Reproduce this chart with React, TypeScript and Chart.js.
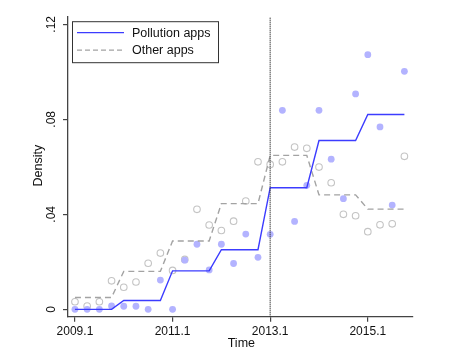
import React, { useEffect, useRef } from "react";
import { Chart, registerables } from "chart.js";

Chart.register(...registerables);

const quarters = [
  "2009.1", "2009.2", "2009.3", "2009.4",
  "2010.1", "2010.2", "2010.3", "2010.4",
  "2011.1", "2011.2", "2011.3", "2011.4",
  "2012.1", "2012.2", "2012.3", "2012.4",
  "2013.1", "2013.2", "2013.3", "2013.4",
  "2014.1", "2014.2", "2014.3", "2014.4",
  "2015.1", "2015.2", "2015.3", "2015.4",
];

const pollutionDots = [
  0, 0, 0, 0.0014, 0.0013, 0.0013, 0, 0.0123,
  0, 0.0207, 0.0274, 0.0166, 0.0274, 0.0193, 0.0317, 0.0219,
  0.0316, 0.0838, 0.037, 0.0522, 0.0838, 0.0632, 0.0466, 0.0907,
  0.1072, 0.0768, 0.0439, 0.1002,
];

const otherDots = [
  0.0032, 0.0014, 0.0032, 0.012, 0.0093, 0.0115, 0.0194, 0.0237,
  0.0164, 0.021, 0.0421, 0.0355, 0.0332, 0.0371, 0.0456, 0.0621,
  0.061, 0.0621, 0.0683, 0.0678, 0.0599, 0.0533, 0.04, 0.0394,
  0.0327, 0.0356, 0.036, 0.0644,
];

const pollutionLine = [
  0, 0, 0, 0,
  0.0037, 0.0037, 0.0037, 0.0037,
  0.0162, 0.0162, 0.0162, 0.0162,
  0.0251, 0.0251, 0.0251, 0.0251,
  0.0512, 0.0512, 0.0512, 0.0512,
  0.0711, 0.0711, 0.0711, 0.0711,
  0.082, 0.082, 0.082, 0.082,
];

const otherLine = [
  0.005, 0.005, 0.005, 0.005,
  0.016, 0.016, 0.016, 0.016,
  0.0288, 0.0288, 0.0288, 0.0288,
  0.0445, 0.0445, 0.0445, 0.0445,
  0.0648, 0.0648, 0.0648, 0.0648,
  0.0482, 0.0482, 0.0482, 0.0482,
  0.0422, 0.0422, 0.0422, 0.0422,
];

const xTickLabels = ["2009.1", "2011.1", "2013.1", "2015.1"];
const yTickValues = [0, 0.04, 0.08, 0.12];
const yTickLabels = ["0", ".04", ".08", ".12"];
const treatmentQuarter = "2013.1";
const legendLabels = ["Pollution apps", "Other apps"];

const FONT = "'Liberation Sans', Arial, sans-serif";
const BLUE = "#3c3cff";
const BLUE_DOT = "#b3b3ff";
const GRAY_LINE = "#a3a3a3";
const GRAY_DOT = "#c4c4c4";
const AXIS = "#444444";

const toPoints = (arr: number[]) => arr.map((v, i) => ({ x: i, y: v }));

export default function App() {
  const ref = useRef<HTMLCanvasElement | null>(null);

  useEffect(() => {
    if (!ref.current) return;

    const overlay = {
      id: "overlay",
      afterDatasetsDraw(chart: any) {
        const ctx = chart.ctx;
        const { chartArea } = chart;
        const xs = chart.scales.x;
        const ys = chart.scales.y;
        ctx.save();
        // vertical dotted reference line
        const vx = xs.getPixelForValue(quarters.indexOf(treatmentQuarter));
        ctx.strokeStyle = "#333333";
        ctx.lineWidth = 1.3;
        ctx.setLineDash([1, 1]);
        ctx.beginPath();
        ctx.moveTo(vx, chartArea.top + 1);
        ctx.lineTo(vx, chartArea.bottom);
        ctx.stroke();
        ctx.setLineDash([]);

        // legend
        const lx = chartArea.left + 4;
        const ly = chartArea.top + 4.5;
        ctx.fillStyle = "#ffffff";
        ctx.fillRect(lx, ly, 146, 41);
        ctx.strokeStyle = "#333333";
        ctx.lineWidth = 1;
        ctx.strokeRect(lx + 0.5, ly + 0.5, 146, 41);
        const rows = [ly + 11.5, ly + 29];
        ctx.lineWidth = 1.3;
        ctx.strokeStyle = BLUE;
        ctx.beginPath();
        ctx.moveTo(lx + 5, rows[0]);
        ctx.lineTo(lx + 52, rows[0]);
        ctx.stroke();
        ctx.strokeStyle = GRAY_LINE;
        ctx.setLineDash([5, 3]);
        ctx.beginPath();
        ctx.moveTo(lx + 5, rows[1]);
        ctx.lineTo(lx + 52, rows[1]);
        ctx.stroke();
        ctx.setLineDash([]);
        ctx.fillStyle = "#111111";
        ctx.font = `12.5px ${FONT}`;
        ctx.textAlign = "left";
        ctx.textBaseline = "middle";
        ctx.fillText(legendLabels[0], lx + 60, rows[0] + 0.5);
        ctx.fillText(legendLabels[1], lx + 60, rows[1] + 0.5);

        // y tick labels (rotated)
        ctx.font = `12px ${FONT}`;
        ctx.fillStyle = "#111111";
        ctx.textAlign = "center";
        ctx.textBaseline = "middle";
        yTickValues.forEach((v, i) => {
          const py = ys.getPixelForValue(v);
          ctx.save();
          ctx.translate(52, py);
          ctx.rotate(-Math.PI / 2);
          ctx.fillText(yTickLabels[i], 0, 0);
          ctx.restore();
        });
        // y title
        ctx.save();
        ctx.translate(39, (chartArea.top + chartArea.bottom) / 2 - 1);
        ctx.rotate(-Math.PI / 2);
        ctx.font = `12.5px ${FONT}`;
        ctx.fillText("Density", 0, 0);
        ctx.restore();
        // x title
        ctx.font = `12.5px ${FONT}`;
        ctx.fillText("Time", (chartArea.left + chartArea.right) / 2 + 1, 343.5);
        ctx.restore();
      },
    };

    const chart = new Chart(ref.current, {
      type: "line",
      data: {
        datasets: [
          {
            label: legendLabels[0],
            data: toPoints(pollutionLine),
            borderColor: BLUE,
            borderWidth: 1.4,
            pointRadius: 0,
            fill: false,
            order: 0,
          },
          {
            label: legendLabels[1],
            data: toPoints(otherLine),
            borderColor: GRAY_LINE,
            borderWidth: 1.4,
            borderDash: [6, 4],
            pointRadius: 0,
            fill: false,
            order: 0,
          },
          {
            label: "pollution dots",
            data: toPoints(pollutionDots),
            showLine: false,
            pointRadius: 3.4,
            pointBackgroundColor: BLUE_DOT,
            pointBorderColor: BLUE_DOT,
            pointBorderWidth: 0,
            order: 1,
          },
          {
            label: "other dots",
            data: toPoints(otherDots),
            showLine: false,
            pointRadius: 3.3,
            pointBackgroundColor: "rgba(0,0,0,0)",
            pointBorderColor: GRAY_DOT,
            pointBorderWidth: 1.1,
            order: 1,
          },
        ],
      },
      options: {
        responsive: false,
        animation: false,
        devicePixelRatio: 1,
        layout: { padding: { left: 0, right: 63.3, top: 16.7, bottom: 0 } },
        plugins: {
          legend: { display: false },
          tooltip: { enabled: false },
          title: { display: false },
        },
        scales: {
          x: {
            type: "linear",
            min: -0.57,
            max: 27.68,
            afterFit(scale: any) {
              scale.height = 38.3;
            },
            afterBuildTicks(scale: any) {
              scale.ticks = xTickLabels.map((l) => ({ value: quarters.indexOf(l) }));
            },
            ticks: {
              callback: (v: any) => quarters[v as number],
              color: "#111111",
              font: { family: FONT, size: 12 },
              padding: 2.5,
              maxRotation: 0,
              minRotation: 0,
            },
            grid: {
              drawOnChartArea: false,
              drawTicks: true,
              tickLength: 5,
              color: AXIS,
              lineWidth: 1.2,
            },
            border: { display: true, color: AXIS, width: 1.3 },
          },
          y: {
            type: "linear",
            min: -0.0031,
            max: 0.1232,
            afterFit(scale: any) {
              scale.width = 68;
            },
            afterBuildTicks(scale: any) {
              scale.ticks = yTickValues.map((v) => ({ value: v }));
            },
            ticks: { display: false },
            grid: {
              drawOnChartArea: false,
              drawTicks: true,
              tickLength: 5,
              color: AXIS,
              lineWidth: 1.2,
            },
            border: { display: true, color: AXIS, width: 1.3 },
          },
        },
      },
      plugins: [overlay],
    });

    return () => chart.destroy();
  }, []);

  return (
    <div style={{ position: "absolute", left: 0, top: 0, width: 476, height: 355, background: "#fff" }}>
      <canvas ref={ref} width={476} height={355} style={{ width: 476, height: 355 }} />
    </div>
  );
}
